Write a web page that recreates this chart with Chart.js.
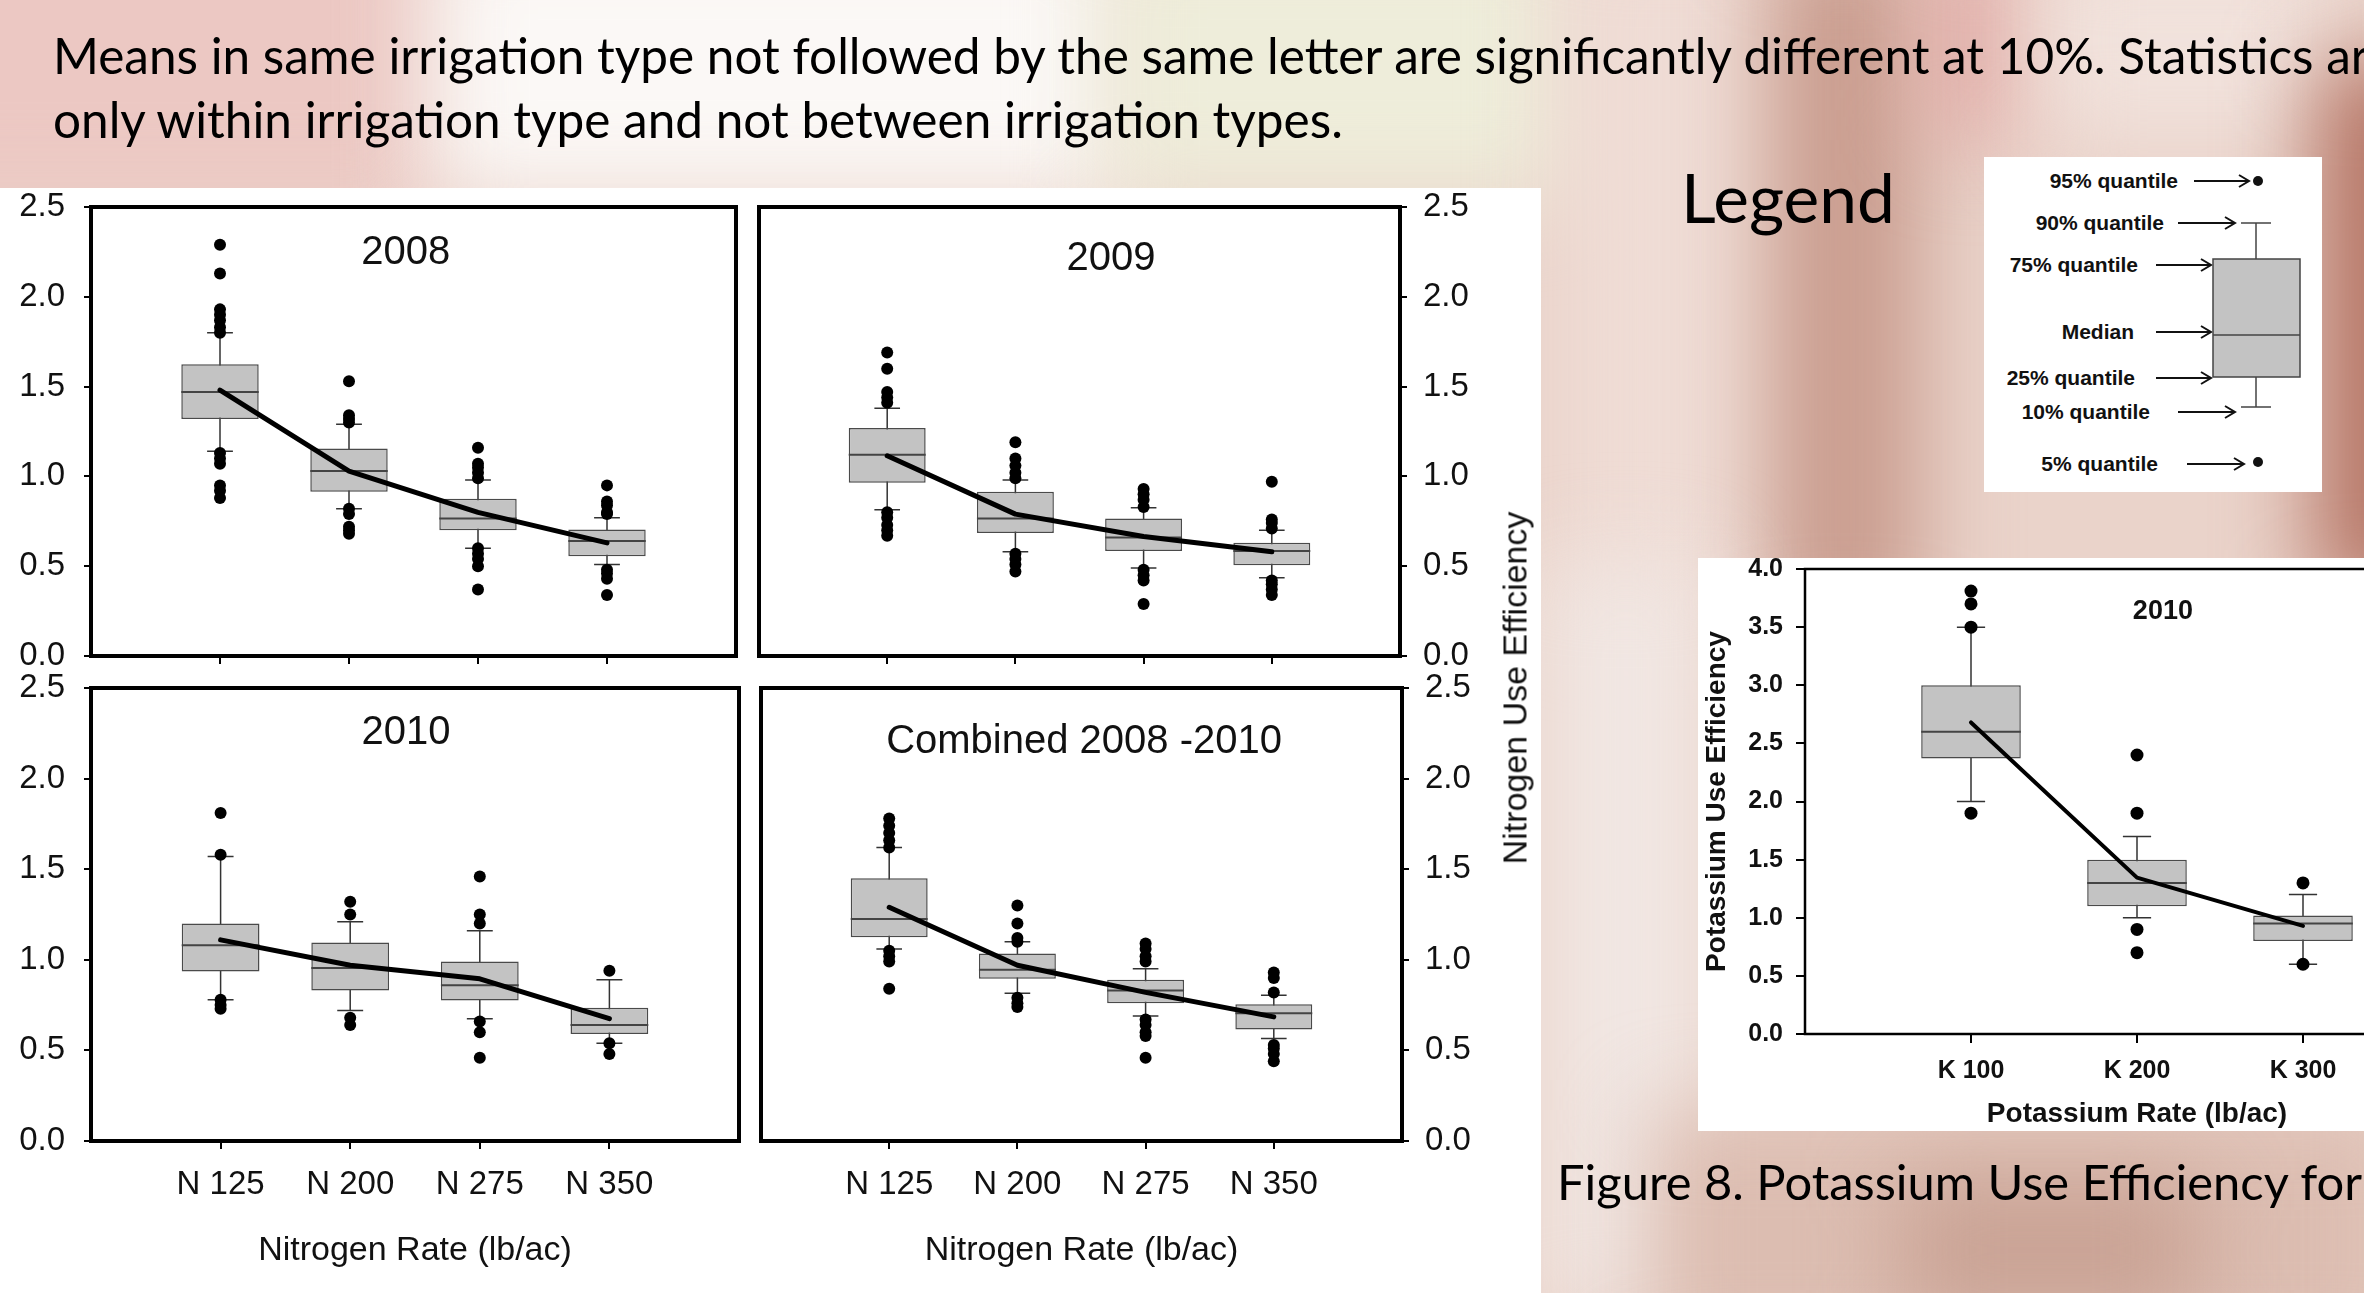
<!DOCTYPE html>
<html>
<head>
<meta charset="utf-8">
<script src="https://cdn.jsdelivr.net/npm/chart.js@4.4.1/dist/chart.umd.min.js"></script>
<style>
  html, body { margin: 0; padding: 0; }
  body { width: 2364px; height: 1293px; overflow: hidden; position: relative; background: #ead3ca; font-family: Lato, sans-serif; }
  .bg { position: absolute; filter: blur(45px); }
  .sheet { position: absolute; background: #fff; }
  canvas { position: absolute; }
  .slide { position: absolute; white-space: nowrap; line-height: 1; color: #000; font-family: Lato, sans-serif; }
  .vtitle { position: absolute; white-space: nowrap; font-family: "Liberation Sans", Arial, sans-serif; font-size: 34px; color: #111; transform: translate(-50%, -50%) rotate(-90deg); }
  #legendBox { position: absolute; left: 1984px; top: 157px; width: 338px; height: 335px; background: #fff; }
  #legendBox .lab { position: absolute; white-space: nowrap; font: bold 21px "Liberation Sans", Arial, sans-serif; color: #111; transform: translateY(-50%); }
  #legendBox svg { position: absolute; left: 0; top: 0; }
</style>
</head>
<body>
<!-- blurred slide background -->
<div class="bg" style="left:-120px;top:-120px;width:560px;height:330px;background:#ecc8c3;"></div>
<div class="bg" style="left:430px;top:-80px;width:700px;height:280px;background:#fbf8f6;"></div>
<div class="bg" style="left:1100px;top:-80px;width:480px;height:280px;background:#eeedda;"></div>
<div class="bg" style="left:1560px;top:-80px;width:220px;height:700px;background:#efdcd5;"></div>
<div class="bg" style="left:1770px;top:-60px;width:150px;height:700px;background:#c99c8e;"></div>
<div class="bg" style="left:1930px;top:-60px;width:90px;height:200px;background:#e2aaa6;"></div>
<div class="bg" style="left:2040px;top:-60px;width:300px;height:200px;background:#f1e2dc;"></div>
<div class="bg" style="left:2315px;top:60px;width:140px;height:540px;background:#b47363;"></div>
<div class="bg" style="left:1541px;top:560px;width:170px;height:760px;background:#f1e7e3;"></div>
<div class="bg" style="left:1650px;top:1110px;width:760px;height:260px;background:#dcbdb1;"></div>
<div class="bg" style="left:1900px;top:1180px;width:300px;height:140px;background:#c9a294;"></div>

<div class="sheet" style="left:0;top:188px;width:1541px;height:1105px;"></div>
<div class="sheet" style="left:1698px;top:558px;width:700px;height:573px;"></div>

<div class="slide" id="line1" style="left:53px;">Means in same irrigation type not followed by the same letter are significantly different at 10%. Statistics are</div>
<div class="slide" id="line2" style="left:53px;">only within irrigation type and not between irrigation types.</div>
<div class="slide" id="legendWord" style="left:1681px;font-size:69px;">Legend</div>
<div class="slide" id="caption" style="left:1557px;font-size:46px;">Figure 8. Potassium Use Efficiency for</div>

<canvas id="c2008" width="760" height="540" style="left:0;top:160px;"></canvas>
<canvas id="c2009" width="760" height="540" style="left:740px;top:160px;"></canvas>
<canvas id="c2010" width="760" height="653" style="left:0;top:640px;"></canvas>
<canvas id="cAll" width="760" height="653" style="left:740px;top:640px;"></canvas>
<canvas id="cK" width="800" height="640" style="left:1698px;top:500px;"></canvas>

<div class="vtitle" style="left:1515px;top:688px;">Nitrogen Use Efficiency</div>

<div id="legendBox">
  <div class="lab" style="right:144px;top:24px;">95% quantile</div>
  <div class="lab" style="right:158px;top:66px;">90% quantile</div>
  <div class="lab" style="right:184px;top:108px;">75% quantile</div>
  <div class="lab" style="right:188px;top:175px;">Median</div>
  <div class="lab" style="right:187px;top:221px;">25% quantile</div>
  <div class="lab" style="right:172px;top:255px;">10% quantile</div>
  <div class="lab" style="right:164px;top:307px;">5% quantile</div>
  <svg width="338" height="335" stroke="#111" fill="none" stroke-width="2">
    <path d="M210 24 H265 M255 18 L265 24 L255 30"/>
    <path d="M194 66 H251 M241 60 L251 66 L241 72"/>
    <path d="M172 108 H227 M217 102 L227 108 L217 114"/>
    <path d="M172 175 H227 M217 169 L227 175 L217 181"/>
    <path d="M172 221 H227 M217 215 L227 221 L217 227"/>
    <path d="M194 255 H251 M241 249 L251 255 L241 261"/>
    <path d="M203 307 H260 M250 301 L260 307 L250 313"/>
    <circle cx="274" cy="24" r="5" fill="#111" stroke="none"/>
    <circle cx="274" cy="305" r="5" fill="#111" stroke="none"/>
    <path d="M272 66 V102 M272 220 V250 M257 66 H287 M257 250 H287" stroke="#444" stroke-width="1.5"/>
    <rect x="229" y="102" width="87" height="118" fill="#c3c3c3" stroke="#444" stroke-width="1.5"/>
    <path d="M229 178 H316" stroke="#444" stroke-width="1.5"/>
  </svg>
</div>

<script>
// categories
const nitrogenRates = ['N 125', 'N 200', 'N 275', 'N 350'];
const potassiumRates = ['K 100', 'K 200', 'K 300'];

// 2008
const p10_2008 = [1.14, 0.82, 0.60, 0.51];
const q25_2008 = [1.32, 0.915, 0.70, 0.555];
const med_2008 = [1.47, 1.03, 0.765, 0.64];
const q75_2008 = [1.625, 1.155, 0.875, 0.705];
const p90_2008 = [1.80, 1.29, 0.98, 0.77];
const mean_2008 = [1.48, 1.03, 0.80, 0.63];
const out_2008 = [
  [2.29, 2.13, 1.93, 1.90, 1.87, 1.83, 1.80, 1.13, 1.10, 1.07, 0.95, 0.92, 0.88],
  [1.53, 1.34, 1.32, 1.30, 0.82, 0.79, 0.72, 0.70, 0.68],
  [1.16, 1.07, 1.05, 1.02, 0.99, 0.60, 0.57, 0.54, 0.50, 0.37],
  [0.95, 0.86, 0.84, 0.80, 0.79, 0.48, 0.46, 0.43, 0.34]
];

// 2009
const p10_2009 = [0.815, 0.58, 0.49, 0.435];
const q25_2009 = [0.965, 0.685, 0.585, 0.505];
const med_2009 = [1.12, 0.765, 0.66, 0.585];
const q75_2009 = [1.27, 0.915, 0.765, 0.63];
const p90_2009 = [1.38, 0.98, 0.825, 0.70];
const mean_2009 = [1.115, 0.79, 0.665, 0.58];
const out_2009 = [
  [1.69, 1.60, 1.47, 1.44, 1.41, 0.80, 0.77, 0.73, 0.70, 0.67],
  [1.19, 1.10, 1.06, 1.02, 0.99, 0.57, 0.54, 0.51, 0.47],
  [0.93, 0.90, 0.87, 0.83, 0.48, 0.45, 0.42, 0.29],
  [0.97, 0.76, 0.74, 0.71, 0.42, 0.40, 0.37, 0.34]
];

// 2010
const p10_2010 = [0.78, 0.72, 0.675, 0.54];
const q25_2010 = [0.935, 0.83, 0.775, 0.59];
const med_2010 = [1.08, 0.955, 0.86, 0.64];
const q75_2010 = [1.20, 1.095, 0.99, 0.735];
const p90_2010 = [1.57, 1.21, 1.16, 0.89];
const mean_2010 = [1.11, 0.97, 0.895, 0.675];
const out_2010 = [
  [1.81, 1.58, 0.78, 0.75, 0.73],
  [1.32, 1.25, 0.68, 0.64],
  [1.46, 1.25, 1.20, 0.66, 0.60, 0.46],
  [0.94, 0.54, 0.48]
];

// combined 2008-2010
const p10_all = [1.06, 0.815, 0.69, 0.565];
const q25_all = [1.125, 0.895, 0.76, 0.615];
const med_all = [1.225, 0.945, 0.83, 0.705];
const q75_all = [1.45, 1.035, 0.89, 0.755];
const p90_all = [1.62, 1.10, 0.95, 0.805];
const mean_all = [1.29, 0.97, 0.82, 0.685];
const out_all = [
  [1.78, 1.74, 1.70, 1.66, 1.62, 1.05, 1.02, 0.99, 0.84],
  [1.30, 1.20, 1.12, 1.10, 0.79, 0.76, 0.74],
  [1.09, 1.06, 1.02, 0.99, 0.67, 0.64, 0.60, 0.58, 0.46],
  [0.93, 0.90, 0.82, 0.53, 0.51, 0.48, 0.44]
];

// potassium 2010
const p10_k = [2.0, 1.0, 0.6];
const q25_k = [2.37, 1.1, 0.8];
const med_k = [2.6, 1.3, 0.95];
const q75_k = [3.0, 1.5, 1.02];
const p90_k = [3.5, 1.7, 1.2];
const mean_k = [2.68, 1.345, 0.93];
const out_k = [
  [3.81, 3.70, 3.50, 1.90],
  [2.40, 1.90, 0.90, 0.70],
  [1.30, 0.60]
];

const framePlugin = {
  id: 'frame',
  afterDatasetsDraw(chart, args, opts) {
    const {ctx, chartArea: a} = chart;
    ctx.save();
    ctx.strokeStyle = '#000';
    ctx.lineWidth = opts.width;
    ctx.strokeRect(a.left, a.top, a.right - a.left, a.bottom - a.top);
    ctx.restore();
  }
};

const panelTitle = {
  id: 'panelTitle',
  afterDatasetsDraw(chart, args, opts) {
    const {ctx, chartArea: a} = chart;
    ctx.save();
    ctx.font = opts.font;
    ctx.fillStyle = '#111';
    ctx.textAlign = 'center';
    ctx.textBaseline = 'middle';
    ctx.fillText(opts.text, a.left + (a.right - a.left) * opts.fx, a.top + opts.dy);
    ctx.restore();
  }
};

function boxDatasets(p10, q25, med, q75, p90, means, outliers, capHalf, meanWidth, dotRadius) {
  const whiskers = [], caps = [], medians = [], boxes = [], dots = [], meanPts = [];
  p10.forEach((v, i) => {
    const x = i + 1;
    whiskers.push({x, y: p10[i]}, {x, y: p90[i]}, {x, y: null});
    caps.push({x: x - capHalf, y: p10[i]}, {x: x + capHalf, y: p10[i]}, {x, y: null},
              {x: x - capHalf, y: p90[i]}, {x: x + capHalf, y: p90[i]}, {x, y: null});
    medians.push({x: x - 0.3, y: med[i]}, {x: x + 0.3, y: med[i]}, {x, y: null});
    boxes.push({x, y: [q25[i], q75[i]]});
    outliers[i].forEach(o => dots.push({x, y: o}));
    meanPts.push({x, y: means[i]});
  });
  const seg = {type: 'line', pointRadius: 0, spanGaps: false, fill: false};
  return [
    {...seg, data: whiskers, borderColor: '#333', borderWidth: 1.5, order: 5},
    {...seg, data: caps, borderColor: '#333', borderWidth: 1.5, order: 4},
    {type: 'bar', data: boxes, backgroundColor: '#c3c3c3', borderColor: '#4a4a4a', borderWidth: 1.5,
     borderSkipped: false, barPercentage: 0.6, categoryPercentage: 1, order: 3},
    {...seg, data: medians, borderColor: '#444', borderWidth: 2, order: 2},
    {type: 'line', data: dots, showLine: false, pointRadius: dotRadius, pointBackgroundColor: '#000',
     pointBorderWidth: 0, order: 1},
    {type: 'line', data: meanPts, borderColor: '#000', borderWidth: meanWidth, pointRadius: 0,
     borderCapStyle: 'round', borderJoinStyle: 'round', order: 0}
  ];
}

const tickFont = {family: '"Liberation Sans", Arial, sans-serif', size: 33};
const titleFont = {family: '"Liberation Sans", Arial, sans-serif', size: 34};

function nitrogenChart(id, stats, title, fx, dy, side, withLabels, padding, yWidth, xHeight) {
  new Chart(document.getElementById(id), {
    type: 'bar',
    data: {datasets: boxDatasets(...stats, 0.1, 5, 6)},
    plugins: [framePlugin, panelTitle],
    options: {
      responsive: false,
      animation: false,
      layout: {padding},
      plugins: {
        legend: {display: false},
        tooltip: {enabled: false},
        frame: {width: 4},
        panelTitle: {text: title, fx, dy, font: '40px "Liberation Sans", Arial, sans-serif'}
      },
      scales: {
        x: {
          type: 'linear', min: 0, max: 5, offset: false,
          afterFit: s => { s.height = xHeight; },
          ticks: {stepSize: 1, autoSkip: false, maxRotation: 0, padding: 16, font: tickFont, color: '#111',
                  callback: v => withLabels ? (nitrogenRates[v - 1] || '') : ''},
          grid: {offset: false, drawOnChartArea: false, tickLength: 8, lineWidth: 2,
                 color: c => (c.tick && c.tick.value >= 1 && c.tick.value <= 4) ? '#000' : 'rgba(0,0,0,0)'},
          border: {display: false},
          title: {display: withLabels, text: 'Nitrogen Rate (lb/ac)', font: titleFont, color: '#111',
                  padding: {top: 0, bottom: 22}}
        },
        y: {
          position: side, min: 0, max: 2.5,
          afterFit: s => { s.width = yWidth; },
          ticks: {stepSize: 0.5, padding: side === 'left' ? 19 : 16, font: tickFont, color: '#111',
                  callback: v => v.toFixed(1)},
          grid: {drawOnChartArea: false, tickLength: 7, lineWidth: 2, color: '#000'},
          border: {display: false}
        }
      }
    }
  });
}

nitrogenChart('c2008', [p10_2008, q25_2008, med_2008, q75_2008, p90_2008, mean_2008, out_2008],
  '2008', 0.488, 46, 'left', false, {left: 0, top: 47, right: 24, bottom: 0}, 91, 44);
nitrogenChart('c2009', [p10_2009, q25_2009, med_2009, q75_2009, p90_2009, mean_2009, out_2009],
  '2009', 0.549, 52, 'right', false, {left: 19, top: 47, right: 0, bottom: 0}, 100, 44);
nitrogenChart('c2010', [p10_2010, q25_2010, med_2010, q75_2010, p90_2010, mean_2010, out_2010],
  '2010', 0.486, 45, 'left', true, {left: 0, top: 48, right: 21, bottom: 0}, 91, 152);
nitrogenChart('cAll', [p10_all, q25_all, med_all, q75_all, p90_all, mean_all, out_all],
  'Combined 2008 -2010', 0.504, 54, 'right', true, {left: 21, top: 48, right: 0, bottom: 0}, 98, 152);

const kTick = {family: '"Liberation Sans", Arial, sans-serif', size: 25, weight: 'bold'};
const kTitle = {family: '"Liberation Sans", Arial, sans-serif', size: 28, weight: 'bold'};

new Chart(document.getElementById('cK'), {
  type: 'bar',
  data: {datasets: boxDatasets(p10_k, q25_k, med_k, q75_k, p90_k, mean_k, out_k, 0.085, 4, 6.5)},
  plugins: [framePlugin, panelTitle],
  options: {
    responsive: false,
    animation: false,
    layout: {padding: {left: 0, top: 69, right: 29, bottom: 0}},
    plugins: {
      legend: {display: false},
      tooltip: {enabled: false},
      frame: {width: 2.5},
      panelTitle: {text: '2010', fx: 0.539, dy: 43, font: 'bold 27px "Liberation Sans", Arial, sans-serif'}
    },
    scales: {
      x: {
        type: 'linear', min: 0, max: 4, offset: false,
        afterFit: s => { s.height = 106; },
        ticks: {stepSize: 1, autoSkip: false, maxRotation: 0, padding: 13, font: kTick, color: '#111',
                callback: v => potassiumRates[v - 1] || ''},
        grid: {offset: false, drawOnChartArea: false, tickLength: 9, lineWidth: 2,
               color: c => (c.tick && c.tick.value >= 1 && c.tick.value <= 3) ? '#000' : 'rgba(0,0,0,0)'},
        border: {display: false},
        title: {display: true, text: 'Potassium Rate (lb/ac)', font: kTitle, color: '#111',
                padding: {top: 0, bottom: 9}}
      },
      y: {
        min: 0, max: 4,
        afterFit: s => { s.width = 107; },
        ticks: {stepSize: 0.5, padding: 13, font: kTick, color: '#111', callback: v => v.toFixed(1)},
        grid: {drawOnChartArea: false, tickLength: 9, lineWidth: 2, color: '#000'},
        border: {display: false},
        title: {display: true, text: 'Potassium Use Efficiency', font: kTitle, color: '#111',
                padding: {top: 2, bottom: 0}}
      }
    }
  }
});

// slide text: size each line to its width on the slide, then centre it on its row
function fitText(el, targetWidth) {
  const size = parseFloat(getComputedStyle(el).fontSize);
  const w = el.getBoundingClientRect().width;
  const next = size * targetWidth / w;
  el.style.fontSize = next + 'px';
  return next;
}
function placeRow(el, centerY) {
  const size = parseFloat(getComputedStyle(el).fontSize);
  el.style.top = (centerY - 0.53 * size) + 'px';
}
const line1 = document.getElementById('line1');
const line2 = document.getElementById('line2');
line2.style.fontSize = '46px';
const bodySize = fitText(line2, 1290);
line1.style.fontSize = bodySize + 'px';
placeRow(line1, 57);
placeRow(line2, 121);
const legendWord = document.getElementById('legendWord');
fitText(legendWord, 214);
placeRow(legendWord, 199);
const caption = document.getElementById('caption');
fitText(caption, 805);
placeRow(caption, 1183);
</script>
</body>
</html>
